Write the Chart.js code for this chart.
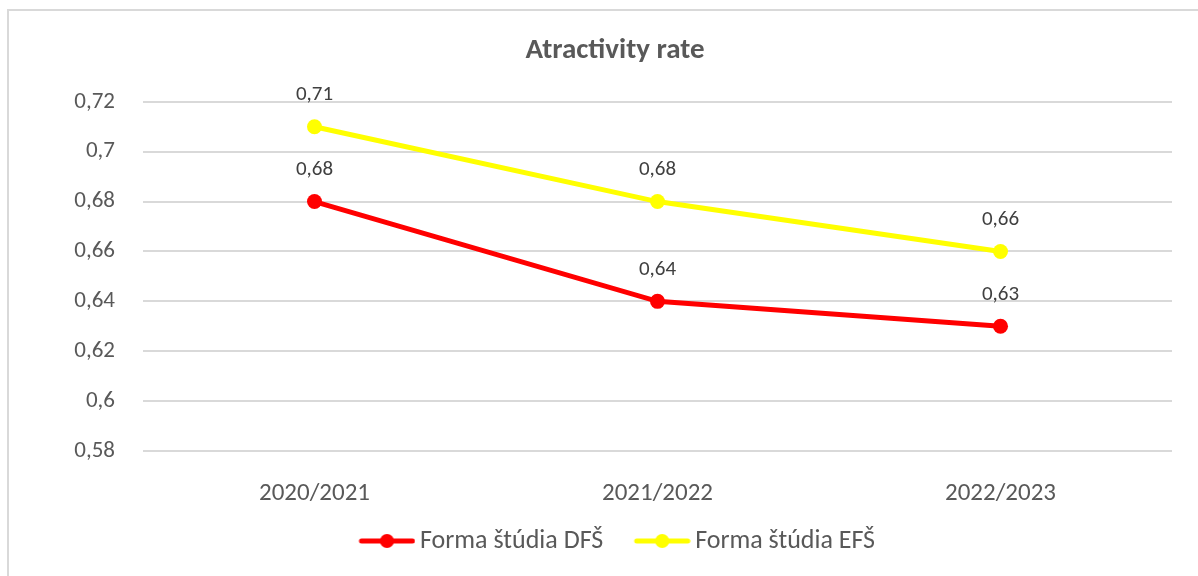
<!DOCTYPE html>
<html>
<head>
<meta charset="utf-8">
<script src="https://cdn.jsdelivr.net/npm/chart.js@4"></script>
<style>
  html, body { margin: 0; padding: 0; background: #fff; }
  #wrap { position: relative; width: 1198px; height: 576px; }
</style>
</head>
<body>
<div id="wrap"><canvas id="rateChart"></canvas></div>
<script>
// values
const years = ['2020/2021', '2021/2022', '2022/2023'];
const dfsValues = [0.68, 0.64, 0.63];
const efsValues = [0.71, 0.68, 0.66];
const seriesNames = ['Forma štúdia DFŠ', 'Forma štúdia EFŠ'];
const yMin = 0.58, yMax = 0.72, yStep = 0.02;

const fontFamily = 'Carlito, Lato, "Open Sans", sans-serif';
const textColor = '#595959';
const colors = ['#ff0000', '#ffff00'];
const fmt = v => String(Math.round(v * 100) / 100).replace('.', ',');

// line+dot image for the legend entries (drawn at the right end, so it sits close to the text)
function legendIcon(color) {
  const c = document.createElement('canvas');
  c.width = 69; c.height = 16;
  const g = c.getContext('2d');
  g.strokeStyle = color; g.lineWidth = 5; g.lineCap = 'round';
  g.beginPath(); g.moveTo(15, 8); g.lineTo(66, 8); g.stroke();
  g.fillStyle = color;
  g.beginPath(); g.arc(40.5, 8, 7, 0, Math.PI * 2); g.fill();
  return c;
}

// value labels above each point
const pointLabels = {
  id: 'pointLabels',
  afterDatasetsDraw(chart) {
    const ctx = chart.ctx;
    ctx.save();
    ctx.font = '21px ' + fontFamily;
    ctx.fillStyle = '#404040';
    ctx.textAlign = 'center';
    ctx.textBaseline = 'middle';
    chart.data.datasets.forEach((ds, i) => {
      chart.getDatasetMeta(i).data.forEach((pt, j) => {
        ctx.fillText(fmt(ds.data[j]), pt.x, pt.y - 32);
      });
    });
    ctx.restore();
  }
};

// light frame round the whole chart
const frame = {
  id: 'frame',
  beforeDraw(chart) {
    const ctx = chart.ctx;
    ctx.save();
    ctx.strokeStyle = '#d9d9d9';
    ctx.lineWidth = 2;
    ctx.strokeRect(8, 10, chart.width + 20, chart.height + 20);
    ctx.restore();
  }
};

new Chart(document.getElementById('rateChart'), {
  type: 'line',
  data: {
    labels: years,
    datasets: [dfsValues, efsValues].map((vals, i) => ({
      label: seriesNames[i],
      data: vals,
      borderColor: colors[i],
      backgroundColor: colors[i],
      borderWidth: 5,
      pointStyle: 'circle',
      pointRadius: 7.5,
      pointBorderWidth: 0,
      pointHoverRadius: 7.5,
      tension: 0
    }))
  },
  options: {
    responsive: true,
    maintainAspectRatio: false,
    animation: false,
    layout: { padding: { left: 58, right: 26, top: 0, bottom: 12 } },
    plugins: {
      title: {
        display: true,
        text: 'Atractivity rate',
        color: textColor,
        font: { family: fontFamily, size: 29, weight: 'bold' },
        padding: { top: 33, bottom: 34 }
      },
      legend: {
        position: 'bottom',
        labels: {
          usePointStyle: true,
          pointStyleWidth: 52,
          color: textColor,
          font: { family: fontFamily, size: 26 },
          padding: 27,
          generateLabels: chart => chart.data.datasets.map((ds, i) => ({
            text: ds.label,
            fillStyle: colors[i],
            strokeStyle: colors[i],
            fontColor: textColor,
            pointStyle: legendIcon(colors[i]),
            datasetIndex: i,
            lineWidth: 0
          }))
        }
      },
      tooltip: { enabled: false }
    },
    scales: {
      x: {
        offset: true,
        grid: { display: false },
        border: { display: false },
        afterFit: scale => { scale.height = 50; },
        ticks: { color: textColor, font: { family: fontFamily, size: 25 }, padding: 20 }
      },
      y: {
        min: yMin,
        max: yMax,
        border: { display: false },
        grid: { color: '#d9d9d9', lineWidth: 2, drawTicks: false },
        afterFit: scale => { scale.width = 85; },
        ticks: {
          stepSize: yStep,
          color: textColor,
          font: { family: fontFamily, size: 23 },
          padding: 28,
          callback: v => fmt(v)
        }
      }
    }
  },
  plugins: [pointLabels, frame]
});
</script>
</body>
</html>
